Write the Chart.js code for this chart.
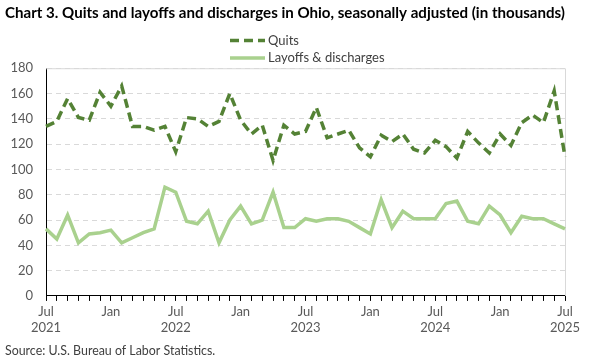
<!DOCTYPE html>
<html>
<head>
<meta charset="utf-8">
<script src="https://cdn.jsdelivr.net/npm/chart.js@4"></script>
<style>
  html, body { margin: 0; padding: 0; background: #fff; }
  #wrap { width: 600px; height: 360px; position: relative; }
</style>
</head>
<body>
<div id="wrap"><canvas id="chart"></canvas></div>
<script>
/* global Chart */

const TITLE = 'Chart 3. Quits and layoffs and discharges in Ohio, seasonally adjusted (in thousands)';
const SOURCE = 'Source: U.S. Bureau of Labor Statistics.';

// one entry per month, Jul 2021 .. Jul 2025
const months = [
    'Jul 2021','Aug 2021','Sep 2021','Oct 2021','Nov 2021','Dec 2021',
    'Jan 2022','Feb 2022','Mar 2022','Apr 2022','May 2022','Jun 2022',
    'Jul 2022','Aug 2022','Sep 2022','Oct 2022','Nov 2022','Dec 2022',
    'Jan 2023','Feb 2023','Mar 2023','Apr 2023','May 2023','Jun 2023',
    'Jul 2023','Aug 2023','Sep 2023','Oct 2023','Nov 2023','Dec 2023',
    'Jan 2024','Feb 2024','Mar 2024','Apr 2024','May 2024','Jun 2024',
    'Jul 2024','Aug 2024','Sep 2024','Oct 2024','Nov 2024','Dec 2024',
    'Jan 2025','Feb 2025','Mar 2025','Apr 2025','May 2025','Jun 2025',
    'Jul 2025'
];

const quits = [
    134, 138, 156, 141, 139, 161,
    150, 166, 134, 134, 131, 134,
    114, 141, 140, 134, 138, 160,
    139, 128, 135, 107, 135, 128,
    130, 149, 125, 128, 131, 117,
    110, 127, 122, 128, 116, 113,
    123, 118, 109, 130, 121, 113,
    128, 119, 137, 143, 137, 162,
    110
];

const layoffs = [
    53, 45, 64, 42, 49, 50,
    52, 42, 46, 50, 53, 86,
    82, 59, 57, 67, 42, 60,
    71, 57, 60, 82, 54, 54,
    61, 59, 61, 61, 59, 54,
    49, 76, 54, 67, 61, 61,
    61, 73, 75, 59, 57, 71,
    64, 50, 63, 61, 61, 57,
    53
];

const yTicks = { min: 0, max: 180, step: 20 };
const tickMonths = ['Jul', 'Jan'];

const FONT = 'Lato, "Open Sans", sans-serif';
const DARK = '#548235';
const LIGHT = '#a9d18e';

// frame on top/right like the office chart, plus a stacked legend
const frameAndLegend = {
    id: 'frameAndLegend',
    beforeDatasetsDraw(chart) {
        const { ctx, chartArea: a } = chart;
        ctx.save();
        ctx.strokeStyle = '#d9d9d9';
        ctx.lineWidth = 1;
        ctx.beginPath();
        ctx.moveTo(a.left, a.top + 0.5);
        ctx.lineTo(a.right + 0.5, a.top + 0.5);
        ctx.lineTo(a.right + 0.5, a.bottom);
        ctx.stroke();
        ctx.restore();
    },
    afterDraw(chart) {
        const { ctx } = chart;
        const x0 = 230, len = 35, rows = [40.5, 58];
        ctx.save();
        ctx.font = '13px ' + FONT;
        ctx.textBaseline = 'middle';
        ctx.fillStyle = '#404040';
        chart.data.datasets.forEach((ds, i) => {
            const y = rows[i];
            ctx.strokeStyle = ds.borderColor;
            ctx.lineWidth = ds.borderWidth;
            ctx.setLineDash(ds.borderDash || []);
            ctx.beginPath();
            ctx.moveTo(x0, y);
            ctx.lineTo(x0 + len, y);
            ctx.stroke();
            ctx.fillText(ds.label, x0 + len + 3, y);
        });
        ctx.restore();
    }
};

new Chart(document.getElementById('chart'), {
    type: 'line',
    data: {
        labels: months,
        datasets: [
            { label: 'Quits', data: quits, borderColor: DARK, borderWidth: 3.5,
              borderDash: [9, 5], pointRadius: 0, tension: 0 },
            { label: 'Layoffs & discharges', data: layoffs, borderColor: LIGHT, borderWidth: 3.5,
              pointRadius: 0, tension: 0 }
        ]
    },
    options: {
        responsive: true,
        maintainAspectRatio: false,
        animation: false,
        layout: { padding: { left: 5, right: 35, top: 0, bottom: 2 } },
        plugins: {
            legend: { display: false },
            tooltip: { enabled: false },
            title: {
                display: true, text: TITLE, align: 'start', color: '#000',
                font: { family: FONT, size: 15.2, weight: 'bold' },
                padding: { top: 4, bottom: 46 }
            },
            subtitle: {
                display: true, text: SOURCE, align: 'start', position: 'bottom', color: '#404040',
                font: { family: FONT, size: 12.4 },
                padding: { top: 5, bottom: 0 }
            }
        },
        scales: {
            x: {
                offset: false,
                grid: { drawOnChartArea: false, drawTicks: true, tickLength: 5, color: '#000' },
                border: { color: '#000', width: 1 },
                ticks: {
                    autoSkip: false, maxRotation: 0, padding: 3,
                    color: '#595959', font: { family: FONT, size: 13 },
                    callback(v, i) {
                        const [m, y] = months[i].split(' ');
                        if (m === 'Jul') return [m, y];
                        if (tickMonths.includes(m)) return m;
                        return '';
                    }
                }
            },
            y: {
                min: yTicks.min, max: yTicks.max,
                afterFit(scale) { scale.width = 41; },
                grid: { color: '#d9d9d9', drawTicks: false },
                border: { color: '#000', width: 1, dash: [5, 4] },
                ticks: {
                    stepSize: yTicks.step, padding: 13,
                    color: '#595959', font: { family: FONT, size: 13 }
                }
            }
        }
    },
    plugins: [frameAndLegend]
});
</script>
</body>
</html>
